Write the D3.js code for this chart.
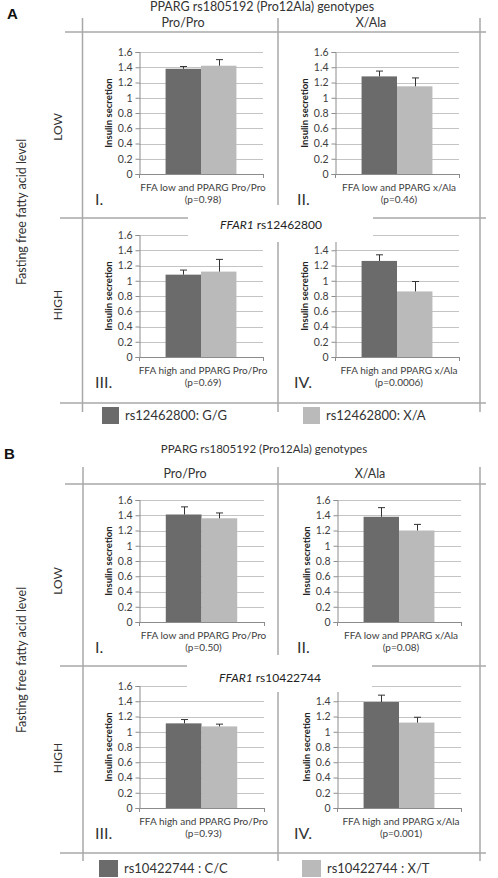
<!DOCTYPE html>
<html><head><meta charset="utf-8">
<script src="https://cdn.jsdelivr.net/npm/d3@7"></script>
<style>
html,body{margin:0;padding:0;background:#fff;}
svg{display:block;}
</style></head>
<body>
<svg id="fig" width="498" height="878"></svg>
<script>
// ---------------- DATA ----------------
const categoriesLabels = ["FFA low and PPARG Pro/Pro", "FFA low and PPARG x/Ala", "FFA high and PPARG Pro/Pro", "FFA high and PPARG x/Ala"];
const romanLabels = ["I.", "II.", "III.", "IV."];
const pValuesA = ["(p=0.98)", "(p=0.46)", "(p=0.69)", "(p=0.0006)"];
const pValuesB = ["(p=0.50)", "(p=0.08)", "(p=0.93)", "(p=0.001)"];
const seriesA_GG = [1.38, 1.28, 1.08, 1.26];
const seriesA_GG_err = [0.03, 0.07, 0.06, 0.08];
const seriesA_XA = [1.42, 1.15, 1.12, 0.86];
const seriesA_XA_err = [0.08, 0.11, 0.16, 0.13];
const seriesB_CC = [1.41, 1.38, 1.11, 1.39];
const seriesB_CC_err = [0.10, 0.12, 0.05, 0.09];
const seriesB_XT = [1.36, 1.20, 1.07, 1.12];
const seriesB_XT_err = [0.07, 0.08, 0.03, 0.07];
const yTicks = [0, 0.2, 0.4, 0.6, 0.8, 1, 1.2, 1.4, 1.6];
const legendA = ["rs12462800: G/G", "rs12462800: X/A"];
const legendB = ["rs10422744 : C/C", "rs10422744 : X/T"];
const titleText = "PPARG rs1805192 (Pro12Ala) genotypes";
const columnHeaders = ["Pro/Pro", "X/Ala"];
const rowHeaders = ["LOW", "HIGH"];
const sideLabel = "Fasting free fatty acid level";
const ffarA = "rs12462800";
const ffarB = "rs10422744";
const yLabel = "Insulin secretion";

// ---------------- STYLE ----------------
const DARK = "#6b6b6b", LIGHT = "#bababa", FRAME = "#a8a8a8", GRID = "#c4c4c4", AXIS = "#8c8c8c";
const FONT = "Lato, 'Open Sans', sans-serif";

const svg = d3.select("#fig");

function drawPanel(g, o) {
  const y = d3.scaleLinear().domain([0, 1.6]).range([o.y0, o.y0 - 122]);
  const w = (o.x1 - o.x0) / 3.5;
  const xb = d3.scaleBand().domain([0, 1]).range([o.x0 + w * 0.75, o.x1 - w * 0.75]);
  // gridlines
  g.selectAll(null).data(yTicks.filter(d => d > 0)).enter().append("line")
    .attr("x1", o.x0).attr("x2", o.x1).attr("y1", d => Math.round(y(d)) + 0.5).attr("y2", d => Math.round(y(d)) + 0.5)
    .attr("stroke", GRID).attr("stroke-width", 1);
  // bars
  const vals = [{v: o.v[0], e: o.e[0], c: DARK}, {v: o.v[1], e: o.e[1], c: LIGHT}];
  g.selectAll(null).data(vals).enter().append("rect")
    .attr("x", (d, i) => xb(i)).attr("width", xb.bandwidth())
    .attr("y", d => y(d.v)).attr("height", d => o.y0 - y(d.v))
    .attr("fill", d => d.c);
  // error bars
  vals.forEach((d, i) => {
    const cx = Math.round(xb(i) + xb.bandwidth() / 2) + 0.5;
    g.append("line").attr("x1", cx).attr("x2", cx).attr("y1", y(d.v)).attr("y2", y(d.v + d.e)).attr("stroke", "#333").attr("stroke-width", 1);
    g.append("line").attr("x1", cx - 3.5).attr("x2", cx + 3.5).attr("y1", y(d.v + d.e)).attr("y2", y(d.v + d.e)).attr("stroke", "#333").attr("stroke-width", 1);
  });
  // y axis (top label hidden under the FFAR1 caption box in panel IV)
  const shown = o.hideTop ? yTicks.slice(0, -1) : yTicks;
  const ax = g.append("g").attr("transform", `translate(${o.x0 + 0.5},0)`)
    .call(d3.axisLeft(y).tickValues(shown).tickSize(4).tickPadding(3).tickFormat(d => String(+d.toFixed(1))));
  ax.select(".domain").attr("stroke", AXIS);
  ax.selectAll(".tick line").attr("stroke", AXIS);
  ax.selectAll("text").attr("font-family", FONT).attr("font-size", "10.5px").attr("fill", "#404040");
  // x axis
  g.append("line").attr("x1", o.x0).attr("x2", o.x1).attr("y1", o.y0 + 0.5).attr("y2", o.y0 + 0.5).attr("stroke", AXIS);
  [o.x0, o.x1].forEach(xx => g.append("line").attr("x1", xx + 0.5).attr("x2", xx + 0.5).attr("y1", o.y0).attr("y2", o.y0 + 4).attr("stroke", AXIS));
  // y label
  g.append("text").attr("transform", `translate(${o.x0 - 27},${(o.y0 + y(1.6)) / 2}) rotate(-90)`)
    .attr("text-anchor", "middle").attr("font-family", FONT).attr("font-weight", "bold").attr("font-size", "9.5px").attr("fill", "#222")
    .text(yLabel);
  // category labels
  const cxm = (o.x0 + o.x1) / 2 + 2;
  g.append("text").attr("x", cxm).attr("y", o.y0 + 16.5).attr("text-anchor", "middle")
    .attr("font-family", FONT).attr("font-size", "10px").attr("fill", "#404040").text(o.cat);
  g.append("text").attr("x", cxm).attr("y", o.y0 + 29).attr("text-anchor", "middle")
    .attr("font-family", FONT).attr("font-size", "10px").attr("fill", "#404040").text(o.p);
  g.append("text").attr("x", o.rx).attr("y", o.y0 + 31)
    .attr("font-family", FONT).attr("font-size", "16px").attr("fill", "#333").text(o.roman);
}

function drawFigure(cfg) {
  const g = svg.append("g");
  // panel letter
  g.append("text").attr("x", cfg.letterX).attr("y", cfg.letterY).attr("font-family", "'Liberation Sans', Arial, sans-serif")
    .attr("font-weight", "bold").attr("font-size", "15px").attr("fill", "#111").text(cfg.letter);
  // title
  g.append("text").attr("x", cfg.titleX).attr("y", cfg.titleY).attr("text-anchor", "middle")
    .attr("font-family", FONT).attr("font-size", cfg.titleSize).attr("fill", "#333").text(titleText);
  // column headers
  columnHeaders.forEach((t, i) => g.append("text").attr("x", cfg.colX[i]).attr("y", cfg.colY).attr("text-anchor", "middle")
    .attr("font-family", FONT).attr("font-size", "12.5px").attr("fill", "#333").text(t));
  // side label
  g.append("text").attr("transform", `translate(26,${cfg.sideY}) rotate(-90)`).attr("text-anchor", "middle")
    .attr("font-family", FONT).attr("font-size", "12.5px").attr("fill", "#333").text(sideLabel);
  rowHeaders.forEach((t, i) => g.append("text").attr("transform", `translate(62,${cfg.rowY[i]}) rotate(-90)`).attr("text-anchor", "middle")
    .attr("font-family", FONT).attr("font-size", "12px").attr("fill", "#333").text(t));

  // panels
  const pos = [[cfg.xL, cfg.y0T, 95], [cfg.xR, cfg.y0T, 297], [cfg.xL, cfg.y0B, 95], [cfg.xR, cfg.y0B, 294]];
  pos.forEach((p, i) => {
    drawPanel(g.append("g"), {x0: p[0][0], x1: p[0][1], y0: p[1], rx: p[2], hideTop: i === 3,
      v: [cfg.s1[i], cfg.s2[i]], e: [cfg.e1[i], cfg.e2[i]], cat: categoriesLabels[i], p: cfg.pv[i], roman: romanLabels[i]});
  });

  // frame
  const fr = g.append("g").attr("stroke", FRAME).attr("stroke-width", 1.5).attr("fill", "none");
  cfg.vx.forEach(x => fr.append("line").attr("x1", x).attr("x2", x).attr("y1", cfg.vTop).attr("y2", cfg.vBot));
  fr.append("line").attr("x1", 65).attr("x2", 486).attr("y1", cfg.hTop).attr("y2", cfg.hTop);
  fr.append("line").attr("x1", 60).attr("x2", 486).attr("y1", cfg.hMid).attr("y2", cfg.hMid);
  fr.append("line").attr("x1", 60).attr("x2", 486).attr("y1", cfg.hBot).attr("y2", cfg.hBot);

  // white box with FFAR1 label
  g.append("rect").attr("x", cfg.box[0]).attr("y", cfg.box[1]).attr("width", cfg.box[2] - cfg.box[0]).attr("height", cfg.box[3] - cfg.box[1]).attr("fill", "#fff");
  const ft = g.append("text").attr("x", cfg.ffX).attr("y", cfg.ffY).attr("text-anchor", "middle")
    .attr("font-family", FONT).attr("font-size", "12px").attr("fill", "#222");
  ft.append("tspan").attr("font-style", "italic").text("FFAR1");
  ft.append("tspan").text(" " + cfg.ffar);

  // legend
  const cols = [DARK, LIGHT];
  cfg.legend.forEach((t, i) => {
    g.append("rect").attr("x", cfg.legX[i]).attr("y", cfg.legY).attr("width", cfg.legW).attr("height", 17).attr("fill", cols[i]);
    g.append("text").attr("x", cfg.legX[i] + cfg.legW + 6).attr("y", cfg.legY + 13).attr("font-family", FONT)
      .attr("font-size", "13px").attr("fill", "#333").text(t);
  });
}

drawFigure({
  letter: "A", letterX: 7, letterY: 19, titleX: 262, titleY: 11, titleSize: "12.5px", colX: [183, 371], colY: 27,
  sideY: 212, rowY: [127, 305],
  xL: [139, 263], xR: [335, 459], y0T: 174, y0B: 357,
  s1: seriesA_GG, e1: seriesA_GG_err, s2: seriesA_XA, e2: seriesA_XA_err, pv: pValuesA,
  vx: [82.5, 278, 480], vTop: 18, vBot: 412, hTop: 32, hMid: 218, hBot: 403,
  box: [188, 205, 373, 242], ffX: 271, ffY: 229, ffar: ffarA,
  legend: legendA, legX: [102, 303], legY: 407, legW: 17
});

drawFigure({
  letter: "B", letterX: 4, letterY: 459, titleX: 264, titleY: 453, titleSize: "11.5px", colX: [185, 370], colY: 478,
  sideY: 660, rowY: [581, 758],
  xL: [139, 264], xR: [337, 461], y0T: 622, y0B: 808,
  s1: seriesB_CC, e1: seriesB_CC_err, s2: seriesB_XT, e2: seriesB_XT_err, pv: pValuesB,
  vx: [83, 278, 480], vTop: 467, vBot: 861, hTop: 484, hMid: 666, hBot: 853,
  box: [187, 655, 372, 692], ffX: 270, ffY: 682, ffar: ffarB,
  legend: legendB, legX: [99, 302], legY: 860, legW: 19
});
</script>
</body></html>
